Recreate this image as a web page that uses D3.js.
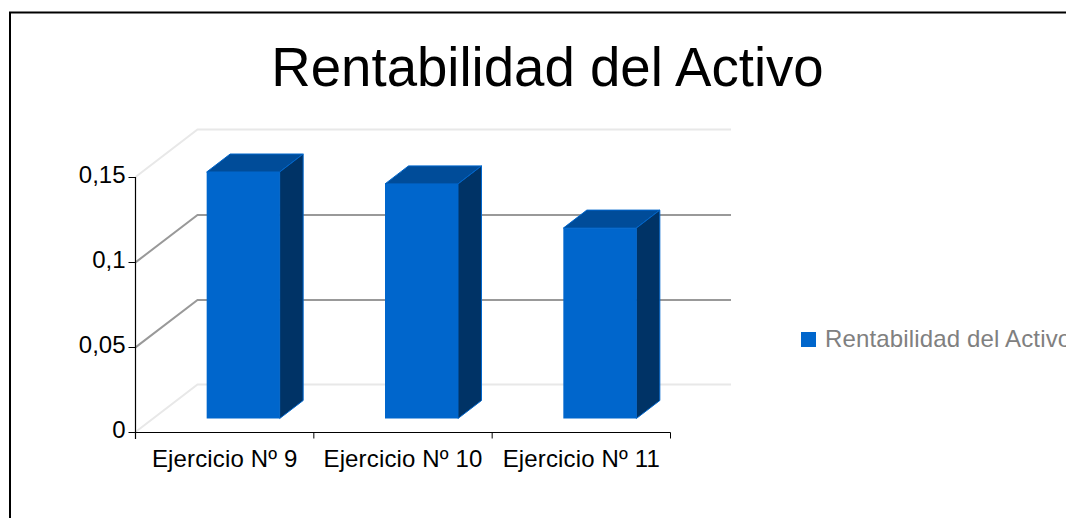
<!DOCTYPE html>
<html><head><meta charset="utf-8">
<script src="https://cdn.jsdelivr.net/npm/d3@7"></script>
<style>html,body{margin:0;padding:0;background:#fff;overflow:hidden}svg{display:block}text{font-family:"Liberation Sans",Arial,sans-serif}</style>
</head><body><svg id="c" width="1066" height="518"></svg>
<script>
const categories = ["Ejercicio Nº 9", "Ejercicio Nº 10", "Ejercicio Nº 11"];
const values = [0.145, 0.138, 0.112];
const yTicks = [0, 0.05, 0.1, 0.15];
const yTickLabels = ["0", "0,05", "0,1", "0,15"];
const titleText = "Rentabilidad del Activo";
const seriesName = "Rentabilidad del Activo";

const svg = d3.select("#c");
const W = 1066, H = 518;
// frame
svg.append("path").attr("d", `M10,${H}V12.5H${W}`).attr("fill", "none").attr("stroke", "#000").attr("stroke-width", 2);
svg.append("text").attr("x", 547.5).attr("y", 86).attr("text-anchor", "middle").attr("font-size", 54.6).attr("fill", "#000").text(titleText);

const x = d3.scaleBand().domain(categories).range([135.5, 670.5]);
const y = d3.scaleLinear().domain([0, 0.15]).range([432, 177]);
const wallDx = 62, wallDy = -47.5, wallRight = 731;

// walls / grid
const g = svg.append("g");
yTicks.forEach(t => {
  const major = t === 0.05 || t === 0.1;
  const st = major ? "#999" : "#e8e8e8";
  g.append("path").attr("d", `M135.5,${y(t) + (major ? 0.4 : 0)}L${135.5 + wallDx},${y(t) + wallDy + (major ? 0.4 : 0)}H${wallRight}`)
    .attr("fill", "none").attr("stroke", st).attr("stroke-width", 2);
});

// bars
const barDepthOffset = 18.5, barLift = 13.5, barW = 73, dx = 23.5, dy = -18;
const by = v => y(v) - barLift;
const gb = svg.append("g");
categories.forEach((c, i) => {
  const x0 = x(c) + x.bandwidth() / 2 + barDepthOffset - barW / 2, x1 = x0 + barW;
  const yt = by(values[i]), yb = by(0);
  gb.append("rect").attr("x", x0).attr("y", yt).attr("width", barW).attr("height", yb - yt).attr("fill", "#0066cc");
  gb.append("path").attr("d", `M${x0},${yt}L${x0 + dx},${yt + dy}H${x1 + dx}L${x1},${yt}Z`).attr("fill", "#004c99").attr("stroke", "#0066cc").attr("stroke-width", 1);
  gb.append("path").attr("d", `M${x1},${yt}L${x1 + dx},${yt + dy}V${yb + dy}L${x1},${yb}Z`).attr("fill", "#003366").attr("stroke", "#0066cc").attr("stroke-width", 1);
});

// axes
const yAxis = d3.axisLeft(y).tickValues(yTicks).tickFormat((d, i) => yTickLabels[i]).tickSize(7).tickPadding(3);
const ya = svg.append("g").attr("transform", "translate(135.5,0)").call(yAxis);
const xAxis = d3.axisBottom(x).tickSize(0).tickPadding(17);
const xa = svg.append("g").attr("transform", "translate(0,432.5)").call(xAxis);
xa.selectAll(".bound").data(d3.range(categories.length + 1)).enter().append("line")
  .attr("x1", i => x.range()[0] + i * x.step()).attr("x2", i => x.range()[0] + i * x.step())
  .attr("y1", 0).attr("y2", 6).attr("stroke", "#000");
[ya, xa].forEach(a => {
  a.selectAll("text").attr("font-size", 24).attr("fill", "#000").style("font-family", '"Liberation Sans",Arial,sans-serif');
  a.selectAll(".domain").attr("stroke", "#000").attr("stroke-width", 1.2);
  a.selectAll(".tick line").attr("stroke", "#000");
});
ya.selectAll("text").attr("dy", "0.22em");
xa.selectAll("text").attr("letter-spacing", 0.15);
ya.select(".domain").attr("d", `M0,${y(0.15)}V${y(0) + 7}`);
xa.select(".domain").attr("d", `M${x.range()[0]},0H${x.range()[1]}`);

// legend
svg.append("rect").attr("x", 801).attr("y", 332).attr("width", 15).attr("height", 15).attr("fill", "#0066cc");
svg.append("text").attr("x", 825).attr("y", 347).attr("font-size", 24).attr("letter-spacing", 0.15).attr("fill", "#808080").text(seriesName);
</script></body></html>
